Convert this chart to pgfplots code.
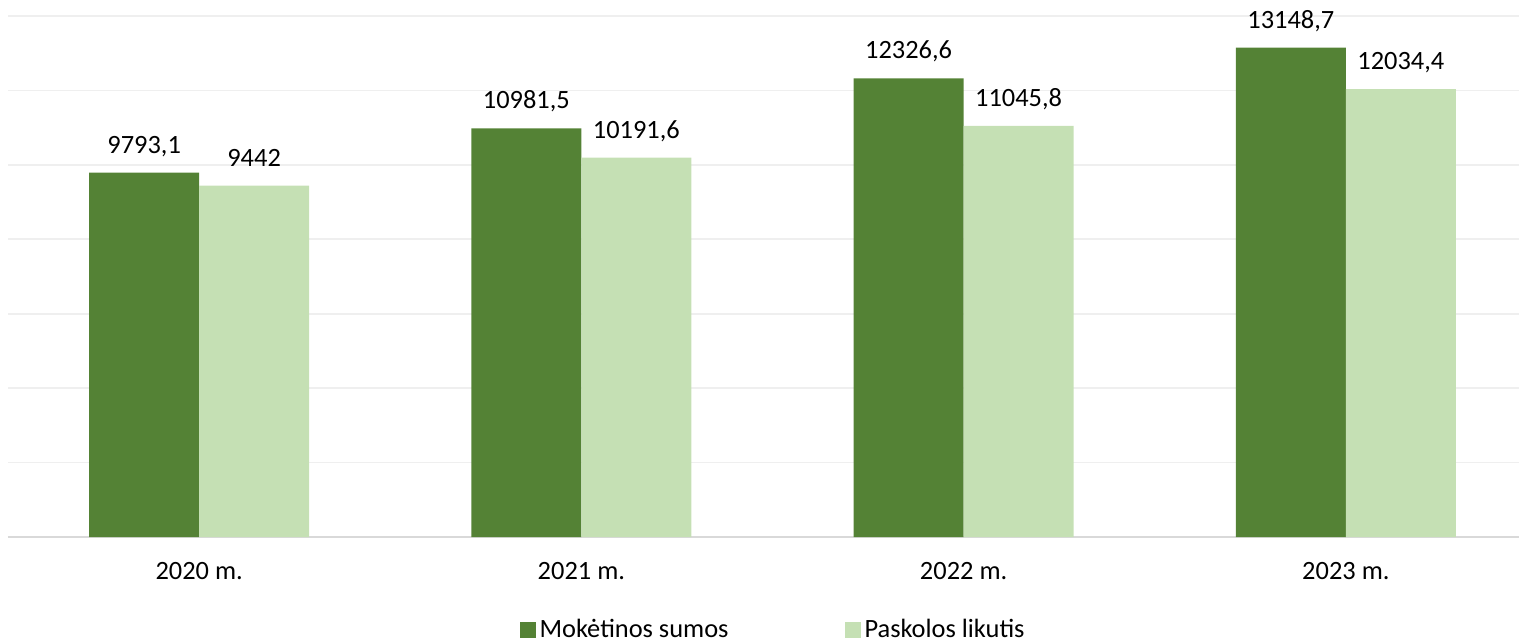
\documentclass[border=0pt]{standalone}
\usepackage{fontspec}
\setmainfont{Carlito}
\usepackage{pgfplots}
\pgfplotsset{compat=1.18}
\definecolor{dkg}{HTML}{548235}
\definecolor{ltg}{HTML}{C5E0B4}
\definecolor{grd}{HTML}{EFEFEF}
\definecolor{axl}{HTML}{D9D9D9}
\pgfplotsset{sqlegend/.style={legend image code/.code={\fill[##1,draw=none] (0pt,-4pt) rectangle (8pt,4pt);}}}
\begin{document}
\begin{tikzpicture}
\begin{axis}[
  name=ax,
  scale only axis, width=755.5pt, height=260.5pt,
  ybar=0pt, bar width=55pt,
  xmin=-0.5, xmax=3.453, ymin=0, ymax=14000,
  xtick={0,1,2,3}, xticklabels={2020 m.,2021 m.,2022 m.,2023 m.},
  ytick={0,2000,...,14000}, yticklabels={},
  major tick length=0pt,
  ymajorgrids, grid style={grd, line width=0.8pt},
  axis line style={draw=none},
  extra y ticks={0}, extra y tick labels={},
  extra y tick style={grid style={axl, line width=0.8pt}},
  tick label style={font=\fontsize{13.2}{15}\selectfont},
  xticklabel style={anchor=base, yshift=-21pt},
  nodes near coords, point meta=explicit symbolic,
  every node near coord/.append style={font=\fontsize{13.2}{15}\selectfont, inner sep=0pt, text depth=0pt, yshift=9.5pt},
  legend style={at={(0.507,-0.1785)}, anchor=center, draw=none, legend columns=2,
    font=\fontsize{13.2}{15}\selectfont,
    /tikz/every even column/.append style={column sep=56pt}},
  clip=false,
]
\addplot[fill=dkg, draw=none, sqlegend] coordinates {(0,9793.1) [9793,1] (1,10981.5) [10981,5] (2,12326.6) [12326,6] (3,13148.7) [13148,7]};
\addplot[fill=ltg, draw=none, sqlegend] coordinates {(0,9442) [9442] (1,10191.6) [10191,6] (2,11045.8) [11045,8] (3,12034.4) [12034,4]};
\legend{Mokėtinos sumos, Paskolos likutis}
\end{axis}
\pgfresetboundingbox
\path[use as bounding box] ([shift={(-4pt,-52.5pt)}]ax.south west) rectangle ([shift={(0pt,8pt)}]ax.north east);
\end{tikzpicture}
\end{document}
